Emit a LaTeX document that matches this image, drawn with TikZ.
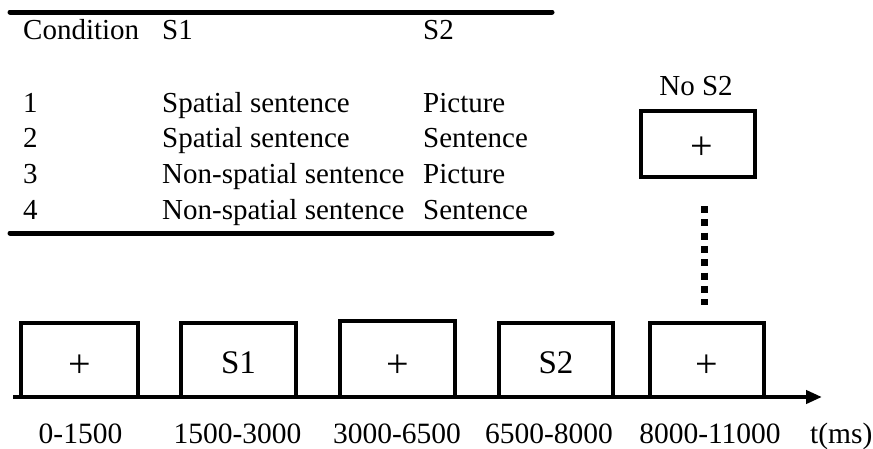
\documentclass[tikz,border=0pt]{standalone}
\usepackage{fontspec}
\setmainfont{Liberation Serif}
\usetikzlibrary{arrows.meta}
\begin{document}
\begin{tikzpicture}[x=1pt,y=-1pt,
  tabtxt/.style={anchor=base west,inner sep=0pt,font=\fontsize{29}{34}\selectfont},
  tablerule/.style={line width=5pt,line cap=round},
  framebox/.style={line width=4pt,line join=miter},
  boxtxt/.style={inner sep=0pt,font=\fontsize{33}{40}\selectfont},
  plustxt/.style={inner sep=0pt,font=\fontsize{40}{48}\selectfont},
  timetxt/.style={anchor=base,inner sep=0pt,font=\fontsize{29.5}{34}\selectfont}]
\useasboundingbox (0,0) rectangle (873,448);
% table rules
\coordinate (r1a) at (10,12); \coordinate (r1b) at (552,12);
\coordinate (r2a) at (10,233); \coordinate (r2b) at (552,233);
\draw[tablerule] (r1a) -- (r1b);
\draw[tablerule] (r2a) -- (r2b);
% table header
\node[tabtxt] (hc) at (23,39) {Condition};
\node[tabtxt] (hs1) at (162,39) {S1};
\node[tabtxt] (hs2) at (423,39) {S2};
% rows
\node[tabtxt] (c1) at (23,112) {1};
\node[tabtxt] (c2) at (23,147) {2};
\node[tabtxt] (c3) at (23,183) {3};
\node[tabtxt] (c4) at (23,219) {4};
\node[tabtxt] (a1) at (162,112) {Spatial sentence};
\node[tabtxt] (a2) at (162,147) {Spatial sentence};
\node[tabtxt] (a3) at (162,183) {Non-spatial sentence};
\node[tabtxt] (a4) at (162,219) {Non-spatial sentence};
\node[tabtxt] (b1) at (423,112) {Picture};
\node[tabtxt] (b2) at (423,147) {Sentence};
\node[tabtxt] (b3) at (423,183) {Picture};
\node[tabtxt] (b4) at (423,219) {Sentence};
% No S2 box
\node[anchor=base,inner sep=0pt,font=\fontsize{29}{34}\selectfont] (nos2lbl) at (696,95) {No S2};
\node[draw,line width=4pt,minimum width=114pt,minimum height=66pt,inner sep=0pt] (nos2box) at (698,144) {};
\node[plustxt] (plus6) at (702,148) {+};
% dotted link
\coordinate (dtop) at (704,206);
\coordinate (dbot) at (704,305);
\draw[line width=7pt,dash pattern=on 7pt off 6.3pt] (dtop) -- (dbot);
% timeline boxes
\draw[framebox] (21,397) -- (21,323) -- (138,323) -- (138,397);
\draw[framebox] (181,397) -- (181,323) -- (296,323) -- (296,397);
\draw[framebox] (340,397) -- (340,321) -- (455,321) -- (455,397);
\draw[framebox] (499,397) -- (499,323) -- (613,323) -- (613,397);
\draw[framebox] (650,397) -- (650,323) -- (764,323) -- (764,397);
\node[plustxt] (p1) at (79.5,366) {+};
\node[boxtxt] (s1) at (238.5,363) {S1};
\node[plustxt] (p3) at (397.5,366) {+};
\node[boxtxt] (s2) at (556,363) {S2};
\node[plustxt] (p5) at (707,366) {+};
% axis
\coordinate (ax0) at (13,397);
\coordinate (ax1) at (822,397);
\draw[line width=4pt,-{Triangle[length=16pt,width=13pt]}] (ax0) -- (ax1);
% time labels
\node[timetxt] (t1) at (80.5,443) {0-1500};
\node[timetxt] (t2) at (237.5,443) {1500-3000};
\node[timetxt] (t3) at (397,443) {3000-6500};
\node[timetxt] (t4) at (549,443) {6500-8000};
\node[timetxt] (t5) at (710,443) {8000-11000};
\node[anchor=base west,inner sep=0pt,font=\fontsize{29.5}{34}\selectfont] (tms) at (810,443) {t(ms)};
\end{tikzpicture}
\end{document}
